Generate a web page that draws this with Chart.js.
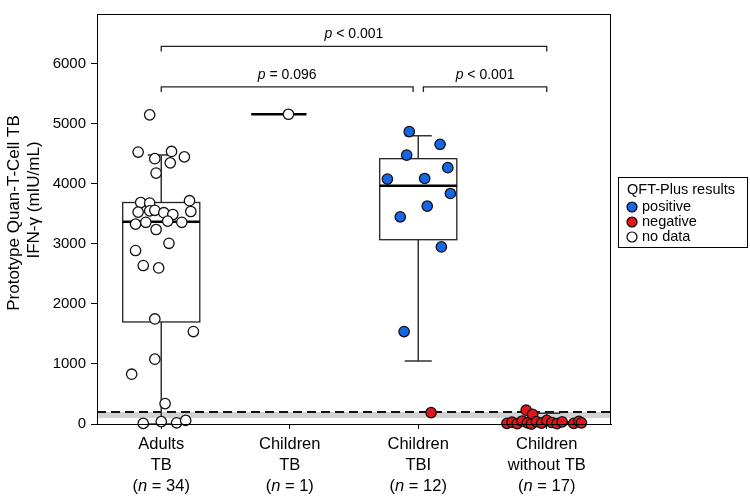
<!DOCTYPE html>
<html><head><meta charset="utf-8">
<script src="https://cdn.jsdelivr.net/npm/chart.js@4/dist/chart.umd.min.js"></script>
<style>html,body{margin:0;padding:0;background:#fff}</style>
</head><body>
<canvas id="c" width="750" height="498"></canvas>
<script>
// ---------- data ----------
const groupLine1 = ['Adults', 'Children', 'Children', 'Children'];
const groupLine2 = ['TB', 'TB', 'TBI', 'without TB'];
const groupN = [34, 1, 12, 17];

// box plot statistics per group (null = no box)
const q1          = [1700, null, 3070, 0];
const median      = [3370, 5160, 3970, 10];
const q3          = [3690, null, 4420, 40];
const whiskerLow  = [0,    null, 1050, 0];
const whiskerHigh = [4480, null, 4800, 180];

// Adults TB (no data)
const adultsValues = [5150, 4530, 4540, 4420, 4350, 4450, 4180, 3690, 3680, 3720, 3530, 3550, 3560, 3520, 3490, 3540,
  3330, 3360, 3380, 3360, 3240, 3010, 2890, 2640, 2600, 1750, 1540, 1080, 830, 340, 10, 40, 20, 60];
const adultsJitter = [-0.09, -0.18, 0.08, -0.05, 0.07, 0.18, -0.04, -0.16, -0.09, 0.22, -0.18, -0.09, -0.05, 0.02, 0.09, 0.23,
  -0.20, -0.12, 0.05, 0.16, -0.04, 0.06, -0.20, -0.14, -0.02, -0.05, 0.25, -0.05, -0.23, 0.03, -0.14, 0.00, 0.12, 0.19];
// Children TB (no data)
const childTBValues = [5160];
const childTBJitter = [-0.01];
// Children TBI
const tbiPosValues = [4870, 4660, 4480, 4270, 4080, 4090, 3840, 3630, 3450, 2950, 1540];
const tbiPosJitter = [-0.07, 0.17, -0.09, 0.23, -0.24, 0.05, 0.25, 0.07, -0.14, 0.18, -0.11];
const tbiNegValues = [190];
const tbiNegJitter = [0.10];
// Children without TB (negative)
const noTBValues = [230, 160, 10, 30, 5, 50, 20, 0, 40, 15, 60, 25, 5, 35, 10, 45, 20];
const noTBJitter = [-0.16, -0.11, -0.31, -0.27, -0.23, -0.19, -0.15, -0.12, -0.08, -0.04, 0.00, 0.04, 0.08, 0.12, 0.21, 0.25, 0.27];

const yTicks = [0, 1000, 2000, 3000, 4000, 5000, 6000];
const cutoff = 200;
const grayZone = [100, 200];

const bracketFrom = [1, 1, 3.04];
const bracketTo   = [4, 2.96, 4];
const bracketLevel = [6290, 5615, 5615];
const bracketText = ['< 0.001', '= 0.096', '< 0.001'];

const legendTitle = 'QFT-Plus results';
const legendLabels = ['positive', 'negative', 'no data'];
const BLUE = '#1667e8', RED = '#e0161a', WHITE = '#ffffff';

const yTitle1 = 'Prototype Quan-T-Cell TB';
const yTitle2 = 'IFN-\u03b3 (mIU/mL)';

// ---------- helpers ----------
function pts(vals, jit, cat) { return vals.map((v, i) => ({ x: cat + jit[i], y: v })); }
const FONT = '"Liberation Sans", Arial, sans-serif';

function richText(ctx, parts, cx, cy, size, align) {
  let w = 0;
  parts.forEach(p => { ctx.font = (p.it ? 'italic ' : '') + size + 'px ' + FONT; p.w = ctx.measureText(p.t).width; w += p.w; });
  let x = align === 'left' ? cx : cx - w / 2;
  ctx.textAlign = 'left'; ctx.textBaseline = 'middle'; ctx.fillStyle = '#000';
  parts.forEach(p => { ctx.font = (p.it ? 'italic ' : '') + size + 'px ' + FONT; ctx.fillText(p.t, x, cy); x += p.w; });
}

const boxPlugin = {
  id: 'boxes',
  beforeDatasetsDraw(chart) {
    const ctx = chart.ctx, xs = chart.scales.x, ys = chart.scales.y, a = chart.chartArea;
    ctx.save();
    // gray zone
    ctx.fillStyle = '#d2d2d2';
    const gTop = ys.getPixelForValue(grayZone[1]), gBot = ys.getPixelForValue(grayZone[0]);
    ctx.fillRect(a.left, gTop, a.right - a.left, gBot - gTop);
    // cutoff dashed
    ctx.strokeStyle = '#111'; ctx.lineWidth = 1.8; ctx.setLineDash([9, 5]);
    const yc = ys.getPixelForValue(cutoff);
    ctx.beginPath(); ctx.moveTo(a.left, yc); ctx.lineTo(a.right, yc); ctx.stroke();
    ctx.setLineDash([]);
    for (let i = 0; i < median.length; i++) {
      const c = i + 1;
      const cx = xs.getPixelForValue(c);
      const L = xs.getPixelForValue(c - 0.3), R = xs.getPixelForValue(c + 0.3);
      const cL = xs.getPixelForValue(c - 0.105), cR = xs.getPixelForValue(c + 0.105);
      if (q1[i] !== null) {
        const yq1 = ys.getPixelForValue(q1[i]), yq3 = ys.getPixelForValue(q3[i]);
        const ywl = ys.getPixelForValue(whiskerLow[i]), ywh = ys.getPixelForValue(whiskerHigh[i]);
        ctx.strokeStyle = '#333'; ctx.lineWidth = 1.5;
        ctx.beginPath();
        ctx.moveTo(cx, yq3); ctx.lineTo(cx, ywh);
        ctx.moveTo(cL, ywh); ctx.lineTo(cR, ywh);
        ctx.moveTo(cx, yq1); ctx.lineTo(cx, ywl);
        ctx.moveTo(cL, ywl); ctx.lineTo(cR, ywl);
        ctx.stroke();
        ctx.fillStyle = '#fff';
        ctx.fillRect(L, yq3, R - L, yq1 - yq3);
        ctx.lineWidth = 1.3; ctx.strokeStyle = '#222';
        ctx.strokeRect(L, yq3, R - L, yq1 - yq3);
        const ym = ys.getPixelForValue(median[i]);
        ctx.strokeStyle = '#000'; ctx.lineWidth = 2.6;
        ctx.beginPath(); ctx.moveTo(L, ym); ctx.lineTo(R, ym); ctx.stroke();
      } else {
        const ym = ys.getPixelForValue(median[i]);
        ctx.strokeStyle = '#000'; ctx.lineWidth = 2.6;
        ctx.beginPath(); ctx.moveTo(L, ym); ctx.lineTo(xs.getPixelForValue(c + 0.13), ym); ctx.stroke();
      }
    }
    ctx.restore();
  },
  afterDraw(chart) {
    const ctx = chart.ctx, xs = chart.scales.x, ys = chart.scales.y, a = chart.chartArea;
    ctx.save();
    // frame
    ctx.strokeStyle = '#000'; ctx.lineWidth = 1;
    ctx.strokeRect(a.left + 0.5, a.top + 0.5, a.right - a.left - 1, a.bottom - a.top);
    // brackets
    ctx.strokeStyle = '#222'; ctx.lineWidth = 1.3;
    for (let i = 0; i < bracketFrom.length; i++) {
      const x1 = xs.getPixelForValue(bracketFrom[i]), x2 = xs.getPixelForValue(bracketTo[i]);
      const y = ys.getPixelForValue(bracketLevel[i]);
      ctx.beginPath();
      ctx.moveTo(x1, y + 5); ctx.lineTo(x1, y); ctx.lineTo(x2, y); ctx.lineTo(x2, y + 5);
      ctx.stroke();
      richText(ctx, [{ t: 'p', it: true }, { t: ' ' + bracketText[i], it: false }], (x1 + x2) / 2, y - 12, 14);
    }
    // x labels
    for (let i = 0; i < groupLine1.length; i++) {
      const cx = xs.getPixelForValue(i + 1);
      richText(ctx, [{ t: groupLine1[i] }], cx, a.bottom + 20, 16.5);
      richText(ctx, [{ t: groupLine2[i] }], cx, a.bottom + 41, 16.5);
      richText(ctx, [{ t: '(' }, { t: 'n', it: true }, { t: ' = ' + groupN[i] + ')' }], cx, a.bottom + 62, 16.5);
    }
    // y title
    ctx.save();
    ctx.translate(14, 213); ctx.rotate(-Math.PI / 2);
    richText(ctx, [{ t: yTitle1 }], 0, 0, 17);
    ctx.restore();
    ctx.save();
    ctx.translate(34, 200); ctx.rotate(-Math.PI / 2);
    richText(ctx, [{ t: yTitle2 }], 0, 0, 17);
    ctx.restore();
    // legend
    ctx.strokeStyle = '#000'; ctx.lineWidth = 1;
    ctx.strokeRect(618.5, 177.5, 129, 70);
    richText(ctx, [{ t: legendTitle }], 627, 190, 14.5, 'left');
    const cols = chart.data.datasets.map(d => d.backgroundColor);
    legendLabels.forEach((lab, k) => {
      const yy = 207 + k * 15;
      ctx.beginPath(); ctx.arc(632, yy, 5, 0, Math.PI * 2);
      ctx.fillStyle = cols[k]; ctx.fill(); ctx.strokeStyle = '#000'; ctx.lineWidth = 1.2; ctx.stroke();
      richText(ctx, [{ t: lab }], 642, yy, 14.5, 'left');
    });
    ctx.restore();
  }
};

new Chart(document.getElementById('c'), {
  type: 'scatter',
  data: {
    datasets: [
      { label: legendLabels[0], data: pts(tbiPosValues, tbiPosJitter, 3), backgroundColor: BLUE },
      { label: legendLabels[1], data: pts(tbiNegValues, tbiNegJitter, 3).concat(pts(noTBValues, noTBJitter, 4)), backgroundColor: RED },
      { label: legendLabels[2], data: pts(adultsValues, adultsJitter, 1).concat(pts(childTBValues, childTBJitter, 2)), backgroundColor: WHITE }
    ].map(d => Object.assign(d, { borderColor: '#111', borderWidth: 1.3, pointRadius: 5.2, pointHoverRadius: 5.2, clip: false }))
  },
  options: {
    responsive: false, animation: false, devicePixelRatio: 1,
    layout: { padding: { top: 2, right: 139, left: 0, bottom: 0 } },
    plugins: { legend: { display: false }, tooltip: { enabled: false } },
    scales: {
      x: {
        type: 'linear', min: 0.5, max: 4.5,
        afterBuildTicks: s => { s.ticks = [1, 2, 3, 4].map(v => ({ value: v })); },
        afterFit: s => { s.height = 74; },
        ticks: { display: false },
        grid: { display: true, drawOnChartArea: false, drawTicks: true, tickLength: 5, color: '#000' },
        border: { display: true, color: '#000', width: 1 }
      },
      y: {
        min: 0, max: 6830,
        afterBuildTicks: s => { s.ticks = yTicks.map(v => ({ value: v })); },
        afterFit: s => { s.width = 97; },
        ticks: { color: '#000', font: { family: FONT, size: 15 }, padding: 5, callback: v => String(v) },
        grid: { display: true, drawOnChartArea: false, drawTicks: true, tickLength: 6, color: '#000' },
        border: { display: true, color: '#000', width: 1 }
      }
    }
  },
  plugins: [boxPlugin]
});
</script>
</body></html>
